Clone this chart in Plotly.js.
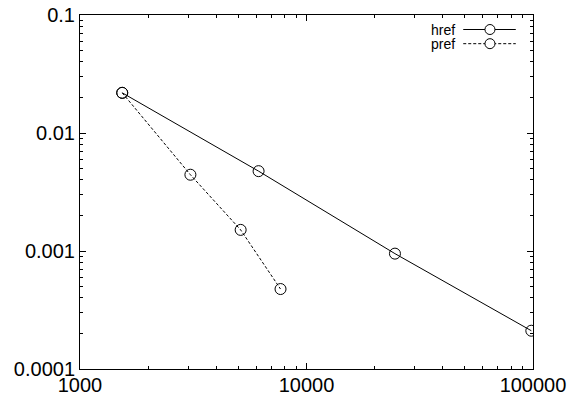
<!DOCTYPE html>
<html>
<head>
<meta charset="utf-8">
<script src="https://cdn.plot.ly/plotly-3.0.1.min.js"></script>
<style>html,body{margin:0;padding:0;background:#fff;}#chart{width:568px;height:396px;}</style>
</head>
<body>
<div id="chart"></div>
<script>
// Data
const hrefX = [1536, 6144, 24576, 98304];
const hrefY = [0.0219, 0.00475, 0.00095, 0.000211];
const prefX = [1536, 3072, 5120, 7680];
const prefY = [0.0219, 0.00443, 0.00151, 0.000476];

const seriesNames = ['href', 'pref'];

const xTickVals = [1000, 10000, 100000];
const xTickText = ['1000', '10000', '100000'];
const yTickVals = [0.0001, 0.001, 0.01, 0.1];
const yTickText = ['0.0001', '0.001', '0.01', '0.1'];

function minorLog(lo, hi) {
  const out = [];
  for (let e = lo; e < hi; e++) {
    for (let d = 2; d <= 9; d++) out.push(d * Math.pow(10, e));
  }
  return out;
}

const FONT = 'Liberation Sans, Arial, Helvetica, sans-serif';

const markerStyle = {symbol: 'circle-open', size: 11, color: '#000', line: {width: 1, color: '#000'}};

const traces = [
  {x: hrefX, y: hrefY, name: seriesNames[0], mode: 'lines+markers', type: 'scatter',
   line: {color: '#000', width: 1}, marker: markerStyle, showlegend: false},
  {x: prefX, y: prefY, name: seriesNames[1], mode: 'lines+markers', type: 'scatter',
   line: {color: '#000', width: 1, dash: '3px,2px'}, marker: markerStyle, showlegend: false}
];

const axisCommon = {
  type: 'log',
  showgrid: false,
  zeroline: false,
  showline: true,
  linecolor: '#000',
  linewidth: 1,
  mirror: 'allticks',
  ticks: 'inside',
  ticklen: 6,
  tickcolor: '#000',
  tickwidth: 1,
  tickmode: 'array',
  tickfont: {family: FONT, size: 20, color: '#000'}
};

// manual gnuplot-style key (text on the left, sample on the right)
const keyRows = [0.959, 0.919];
const shapes = [];
const annotations = [];
seriesNames.forEach((nm, i) => {
  annotations.push({xref: 'paper', yref: 'paper', x: 0.83, y: keyRows[i], xanchor: 'right', yanchor: 'middle',
    text: nm, showarrow: false, borderpad: 0, font: {family: FONT, size: 14, color: '#000'}});
  shapes.push({type: 'line', xref: 'paper', yref: 'paper', x0: 0.846, x1: 0.962, y0: keyRows[i], y1: keyRows[i],
    line: {color: '#000', width: 1, dash: i === 0 ? 'solid' : '3px,2px'}});
  shapes.push({type: 'circle', xref: 'paper', yref: 'paper', xsizemode: 'pixel', ysizemode: 'pixel',
    xanchor: 0.905, yanchor: keyRows[i], x0: -5, x1: 5, y0: -5, y1: 5,
    line: {color: '#000', width: 1}, fillcolor: 'rgba(255,255,255,1)'});
});

const layout = {
  width: 568, height: 396,
  margin: {l: 80, r: 35, t: 15, b: 27, pad: 0},
  paper_bgcolor: '#fff', plot_bgcolor: '#fff',
  showlegend: false,
  xaxis: Object.assign({}, axisCommon, {
    range: [3, 5], tickvals: xTickVals, ticktext: xTickText, ticklabelstandoff: -2,
    minor: {tickmode: 'array', tickvals: minorLog(3, 5), ticks: 'inside', ticklen: 3, tickcolor: '#000', tickwidth: 1, showgrid: false}
  }),
  yaxis: Object.assign({}, axisCommon, {
    range: [-4, -1], tickvals: yTickVals, ticktext: yTickText,
    minor: {tickmode: 'array', tickvals: minorLog(-4, -1), ticks: 'inside', ticklen: 3, tickcolor: '#000', tickwidth: 1, showgrid: false}
  }),
  shapes: shapes,
  annotations: annotations
};

Plotly.newPlot('chart', traces, layout, {staticPlot: true, displayModeBar: false});
</script>
</body>
</html>
